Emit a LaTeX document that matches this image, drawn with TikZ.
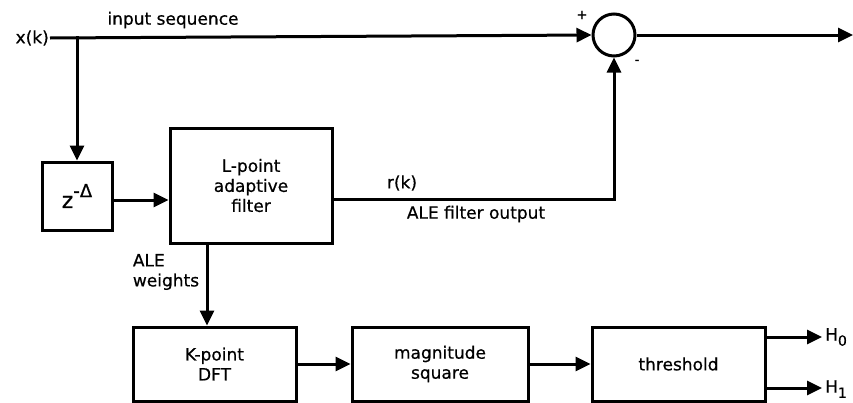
\documentclass[tikz,border=0pt]{standalone}
\usepackage{fontspec}
\setmainfont[FakeBold=0.6]{DejaVu Sans}
\usetikzlibrary{arrows.meta,calc}
\newcommand{\sbs}[1]{\raisebox{-0.55ex}{\fontsize{14}{16}\selectfont #1}}
\begin{document}
\begin{tikzpicture}[x=1pt,y=-1pt,
  every node/.style={font=\fontsize{17}{20}\selectfont},
  arr/.style={line width=3pt,-{Triangle[length=15pt,width=14pt]}},
  blk/.style={draw,line width=3pt,rectangle,inner sep=0pt,align=center},
  lbl/.style={inner sep=1pt}]
\useasboundingbox (0,0) rectangle (853,402);
% nodes
\node[lbl,anchor=east] (xk) at (50,38) {x(k)};
\node[draw,circle,line width=3pt,minimum size=42pt,inner sep=0pt] (sum) at (614,35) {};
\node[blk,minimum width=70pt,minimum height=68pt] (z) at (77,196) {\fontsize{22}{24}\selectfont z\raisebox{0.9ex}{\fontsize{18}{20}\selectfont -Δ}};
\node[blk,minimum width=162pt,minimum height=115pt] (L) at (251,185.5) {L-point\\adaptive\\filter};
\node[blk,minimum width=163pt,minimum height=74pt] (K) at (214.5,364) {K-point\\DFT};
\node[blk,minimum width=176pt,minimum height=74pt] (M) at (440,364) {magnitude\\square};
\node[blk,minimum width=173pt,minimum height=74pt] (T) at (678.5,364) {threshold};
\coordinate (br) at (77,36);
\coordinate (wx) at (207,0);
\coordinate (ry) at (0,199);
\coordinate (out) at (853,35);
\coordinate (h0) at (822,337);
\coordinate (h1) at (822,388);
\node[lbl,anchor=west] (H0) at (824,337) {H\sbs{0}};
\node[lbl,anchor=west] (H1) at (824,389) {H\sbs{1}};
% connectors
\draw[arr] (xk.east) -- (sum.west);
\draw[arr] (br) -- (z.north);
\draw[arr] (z.east |- 0,200) -- (L.west |- 0,200);
\draw[arr] (L.east |- ry) -| (sum.south);
\draw[arr] (sum.east) -- (out);
\draw[arr] (L.south -| wx) -- (K.north -| wx);
\draw[arr] (K.east) -- (M.west);
\draw[arr] (M.east) -- (T.west);
\draw[arr] (T.east |- h0) -- (h0);
\draw[arr] (T.east |- h1) -- (h1);
% labels
\node[lbl] (insq) at (173,20) {input sequence};
\node[lbl,font=\fontsize{13}{15}\selectfont] (plus) at (582,15) {+};
\node[lbl,font=\fontsize{13}{15}\selectfont] (minus) at (637,62) {-};
\node[lbl] (rk) at (402,183) {r(k)};
\node[lbl] (alef) at (476,214) {ALE filter output};
\node[lbl,align=left] (alew) at (166,272) {ALE\\weights};
\end{tikzpicture}
\end{document}
